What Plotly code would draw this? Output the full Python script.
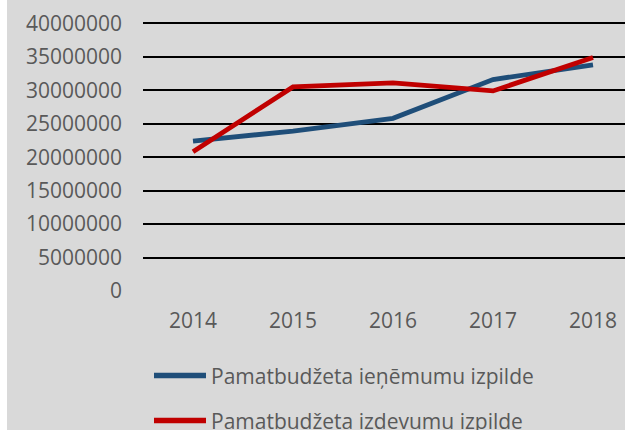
import plotly.graph_objects as go

years = ["2014", "2015", "2016", "2017", "2018"]
ienemumi = [22400000, 23900000, 25800000, 31600000, 33800000]
izdevumi = [20800000, 30500000, 31100000, 29900000, 34900000]
y_ticks = [0, 5000000, 10000000, 15000000, 20000000, 25000000, 30000000, 35000000, 40000000]
grid_ticks = y_ticks[1:]
series_names = ["Pamatbudžeta ieņēmumu izpilde", "Pamatbudžeta izdevumu izpilde"]
colors = ["#1f4e79", "#c00000"]

W, H = 625, 430
ML, MR, MT, MB = 143, 0, 22, 139
PW, PH = W - ML - MR, H - MT - MB
FONT = "'Open Sans', sans-serif"
FS = 21
TXT = "#595959"
BG = "#d9d9d9"
Y_RANGE = [0, 40200000]

fig = go.Figure()
for name, vals, col, yax in zip(series_names, [ienemumi, izdevumi], colors, ["y", "y2"]):
    fig.add_trace(go.Scatter(x=years, y=vals, mode="lines", name=name, yaxis=yax,
                             line=dict(color=col, width=4.8), showlegend=False))

def px_x(px):
    return (px - ML) / PW

def px_y(py):
    return (H - MB - py) / PH

shapes = []
annotations = []
leg_rows = [375.5, 420.5]
for name, col, ly in zip(series_names, colors, leg_rows):
    shapes.append(dict(type="line", xref="paper", yref="paper",
                       x0=px_x(154), x1=px_x(206), y0=px_y(ly), y1=px_y(ly),
                       line=dict(color=col, width=5.5)))
    annotations.append(dict(text=name, xref="paper", yref="paper",
                            x=px_x(209), y=px_y(ly), xanchor="left", yanchor="middle",
                            showarrow=False, font=dict(family=FONT, size=FS, color=TXT)))
shapes.append(dict(type="rect", xref="paper", yref="paper",
                   x0=px_x(0), x1=px_x(7), y0=px_y(H), y1=px_y(0),
                   fillcolor="white", line=dict(width=0), layer="above"))

fig.update_layout(
    width=W, height=H,
    margin=dict(l=ML, r=MR, t=MT, b=MB, pad=0),
    paper_bgcolor=BG, plot_bgcolor=BG,
    font=dict(family=FONT, size=FS, color=TXT),
    xaxis=dict(type="category", range=[-0.5, 4.32], showgrid=False, zeroline=False,
               showline=False, ticks="", ticklabelstandoff=15,
               tickfont=dict(family=FONT, size=FS, color=TXT)),
    yaxis=dict(range=Y_RANGE, tickvals=y_ticks, ticktext=[str(v) for v in y_ticks],
               showgrid=False, zeroline=False, showline=False, ticks="",
               ticklabelstandoff=20, tickfont=dict(family=FONT, size=FS, color=TXT)),
    yaxis2=dict(range=Y_RANGE, overlaying="y", side="left", tickvals=grid_ticks,
                showgrid=True, gridcolor="black", gridwidth=1.6, zeroline=False,
                showline=False, showticklabels=False, ticks=""),
    shapes=shapes,
    annotations=annotations,
    showlegend=False,
)

fig.write_html("out.html", config={"displayModeBar": False},
               post_script="document.body.style.margin='0';")
